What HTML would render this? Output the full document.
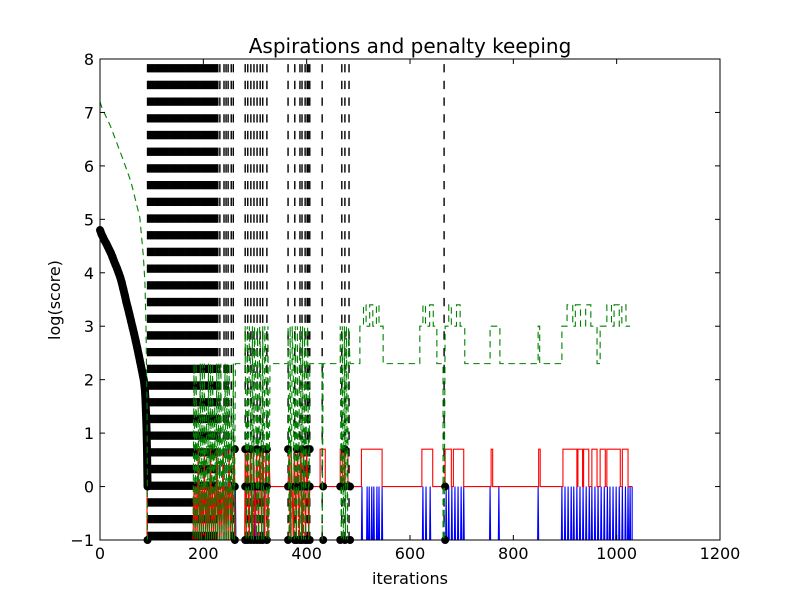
<!DOCTYPE html>
<html><head><meta charset="utf-8"><style>
html,body{margin:0;padding:0;background:#fff;}
svg text{font-family:"DejaVu Sans","Liberation Sans",sans-serif;fill:#000;}
</style></head><body>
<svg id="chart" width="800" height="600" xmlns="http://www.w3.org/2000/svg">
<rect x="0" y="0" width="800" height="600" fill="#fff"/>
<g id="plot"></g>
<rect x="100" y="59" width="620" height="481" fill="none" stroke="#000" stroke-width="1"/>
<g id="ticks"></g>
<text x="410" y="53" font-size="20" text-anchor="middle">Aspirations and penalty keeping</text>
<text x="410" y="584" font-size="16" text-anchor="middle">iterations</text>
<text x="60" y="300" font-size="16" text-anchor="middle" transform="rotate(-90 60 300)">log(score)</text>
</svg>
<script>
const xTicks=[0,200,400,600,800,1000,1200];
const yTicks=[-1,0,1,2,3,4,5,6,7,8];
const vlineIters=[92,94,96,98,100,102,104,106,108,110,112,114,116,118,120,122,124,126,128,130,132,134,136,138,140,142,144,146,148,150,152,154,156,158,160,162,164,166,168,170,172,174,176,178,180,182,184,186,188,190,192,194,196,198,200,202,204,206,208,210,212,214,216,218,220,222,224,226,228,232,240,244,248,254,258,281,286,292,298,304,310,315,323,364,377,387,391,397,401,403,406,430,468,474,482,666];
const curveIters=[0,3,6,9,12,15,18,21,24,27,30,33,36,39,42,45,48,51,54,57,60,63,66,69,72,75,78,81,83,85,87,88,89,90,91,92];
const curveVals=[4.8,4.72,4.66,4.6,4.55,4.49,4.43,4.37,4.3,4.22,4.15,4.08,4.0,3.92,3.82,3.7,3.58,3.45,3.34,3.22,3.1,2.98,2.86,2.73,2.6,2.46,2.32,2.18,2.08,1.98,1.8,1.62,1.38,1.1,0.69,0];
const zeroDots=[261,281,286,292,298,304,310,315,323,364,377,381,387,391,397,401,406,432,465,474,484,668];
const highDots=[261,281,292,304,315,323,364,381,391,401,406,474];
const lowDots=[92,261,281,286,292,298,304,310,315,323,364,377,381,387,391,397,401,406,432,465,474,484,668];
const blueSpikes=[262,300,318,507,517,521,526,530,536,540,546,625,631,639,670,675,681,687,693,699,704,755,772,848,894,900,906,912,917,923,929,935,941,947,952,958,964,970,976,982,987,993,999,1005,1011,1017,1022,1026];
const redDense=[[91,0.7],[91,-1],[180,-1],[182,0],[184,-1],[186,0],[188,-1],[190,0.7],[192,-1],[194,0],[196,-1],[198,0],[200,-1],[202,0.7],[204,-1],[206,0],[208,-1],[210,0],[212,-1],[214,0.7],[216,-1],[218,0],[220,-1],[222,0],[224,-1],[226,0.7],[228,-1],[230,0],[232,-1],[234,0],[236,-1],[238,0.7],[240,-1],[242,0],[244,-1],[246,0],[248,-1],[250,0.7],[252,-1],[254,0],[256,-1],[258,0],[260,0.7],[262,-1],[280,-1],[281,0.7],[283,-1],[285,0.7],[287,0],[289,-1],[291,0.7],[293,0],[295,-1],[297,0.7],[299,0],[301,-1],[303,0.7],[305,0],[307,-1],[309,0.7],[311,0],[313,-1],[315,0.7],[317,0],[319,-1],[321,0.7],[323,0],[325,-1],[327,0.7],[329,0],[364,0],[366,0.7],[368,-1],[370,0.7],[372,0],[374,-1],[376,0.7],[378,0],[380,-1],[382,0.7],[384,0],[386,-1],[388,0.7],[390,0],[392,-1],[394,0.7],[396,0],[398,-1],[400,0.7],[402,0],[404,-1],[406,0]];
const redPulses=[[426,436],[465,469],[473,480],[506,546],[623,644],[668,680],[684,704],[757,760],[849,852],[896,923],[925,934],[936,946],[952,962],[968,978],[981,1007],[1011,1022]];
const redEnd=1030;
const greenDense=[[0,7.2],[4,7.08],[20,6.75],[45,6.11],[60,5.7],[77,5.04],[84,4.3],[87,3.8],[89,3.0],[91,1.5],[92,-1],[180,-1],[182,2.3],[184,-1],[186,2.3],[188,-1],[190,1.5],[192,-1],[194,2.3],[196,-1],[198,2.3],[200,-1],[202,2.3],[204,-1],[206,1.5],[208,-1],[210,2.3],[212,-1],[214,2.3],[216,-1],[218,2.3],[220,-1],[222,1.5],[224,-1],[226,2.3],[228,-1],[230,2.3],[232,-1],[234,2.3],[236,-1],[238,1.5],[240,-1],[242,2.3],[244,-1],[246,2.3],[248,-1],[250,2.3],[252,-1],[254,1.5],[256,-1],[258,2.3],[260,-1],[262,2.3],[281,2.3],[281,3.0],[283,-1],[285,3.0],[287,-1],[289,3.0],[291,2.3],[293,-1],[295,3.0],[297,-1],[299,3.0],[301,2.3],[303,-1],[305,3.0],[307,-1],[309,3.0],[311,2.3],[313,-1],[315,3.0],[317,-1],[319,3.0],[321,2.3],[323,-1],[325,3.0],[327,-1],[329,2.3],[364,2.3],[364,3.0],[366,-1],[368,3.0],[370,-1],[372,3.0],[374,2.3],[376,-1],[378,3.0],[380,-1],[382,3.0],[384,-1],[386,2.3],[388,3.0],[390,-1],[392,3.0],[394,-1],[396,3.0],[398,-1],[400,2.3],[402,3.0],[404,-1],[406,2.3],[430,2.3],[430,-1],[432,2.3],[465,2.3],[465,3.0],[467,-1],[469,3.0],[471,-1],[473,3.0],[475,-1],[477,3.0],[479,-1],[481,3.0],[484,2.3]];
const greenSteps=[[484,503,2.3],[503,510,3.0],[510,515,3.4],[515,522,3.0],[522,528,3.4],[528,535,3.0],[535,540,3.4],[540,548,3.0],[548,619,2.3],[619,625,3.0],[625,630,3.4],[630,638,3.0],[638,645,3.4],[645,652,3.0],[652,664,2.3],[664,666,-1],[668,675,3.0],[675,680,3.4],[680,690,3.0],[690,697,3.4],[697,706,3.0],[706,755,2.3],[755,774,3.0],[774,848,2.3],[848,851,3.0],[851,894,2.3],[894,904,3.0],[904,915,3.4],[915,920,3.0],[920,930,3.4],[930,940,3.0],[940,950,3.4],[950,962,3.0],[962,968,2.3],[968,981,3.0],[981,990,3.4],[990,995,3.0],[995,1005,3.4],[1005,1010,3.0],[1010,1018,3.4],[1018,1026,3.0]];

const NS='http://www.w3.org/2000/svg';
const plot=document.getElementById('plot');
const tk=document.getElementById('ticks');
function xs(v){return 100+v*620/1200;}
function ys(v){return 540-(v+1)*481/9;}
function mk(tag,attrs,parent){const e=document.createElementNS(NS,tag);for(const k in attrs)e.setAttribute(k,attrs[k]);parent.appendChild(e);return e;}

vlineIters.forEach(function(v){
  const l=mk('line',{x1:xs(v),x2:xs(v),y1:ys(-1),y2:ys(8),stroke:'#000','stroke-width':1.4,'stroke-dasharray':'8.3 8.4'},plot);
  
  
});
(function(){
  let d='M'+xs(0)+','+ys(-1);
  blueSpikes.forEach(function(v){d+=' L'+xs(v-1)+','+ys(-1)+' L'+xs(v)+','+ys(0)+' L'+xs(v+1)+','+ys(-1);});
  d+=' L'+xs(1030)+','+ys(-1)+' L'+xs(1030)+','+ys(0);
  const p=mk('path',{d:d,fill:'none',stroke:'#0000ff','stroke-width':1.1},plot);
  
  
})();
(function(){
  let d='';
  redDense.forEach(function(pt,i){d+=(i?' L':'M')+xs(pt[0])+','+ys(pt[1]);});
  redPulses.forEach(function(pr){d+=' L'+xs(pr[0])+','+ys(0)+' L'+xs(pr[0])+','+ys(0.7)+' L'+xs(pr[1])+','+ys(0.7)+' L'+xs(pr[1])+','+ys(0);});
  d+=' L'+xs(redEnd)+','+ys(0);
  const p=mk('path',{d:d,fill:'none',stroke:'#ff0000','stroke-width':1.1},plot);
  
  
})();
function dot(v,val){
  const c=mk('circle',{cx:xs(v),cy:ys(val),r:4,fill:'#000'},plot);
  
  
}
curveIters.forEach(function(v,i){dot(v,curveVals[i]);});
(function(){
  let d='';
  curveIters.forEach(function(v,i){d+=(i?' L':'M')+xs(v)+','+ys(curveVals[i]);});
  const p=mk('path',{d:d,fill:'none',stroke:'#000','stroke-width':8,'stroke-linejoin':'round'},plot);
  
  
})();
zeroDots.forEach(function(v){dot(v,0);});
highDots.forEach(function(v){dot(v,0.7);});
lowDots.forEach(function(v){dot(v,-1);});
(function(){
  let d='';
  greenDense.forEach(function(pt,i){d+=(i?' L':'M')+xs(pt[0])+','+ys(pt[1]);});
  greenSteps.forEach(function(s){d+=' L'+xs(s[0])+','+ys(s[2])+' L'+xs(s[1])+','+ys(s[2]);});
  const p=mk('path',{d:d,fill:'none',stroke:'#008000','stroke-width':1.1,'stroke-dasharray':'6.5 4.5'},plot);
  
  
})();
xTicks.forEach(function(v){
  const x=xs(v);
  const a=mk('line',{x1:x,x2:x,y1:540,y2:535,stroke:'#000'},tk);
  
  
  const b=mk('line',{x1:x,x2:x,y1:59,y2:64,stroke:'#000'},tk);
  
  
  const t=mk('text',{x:x,y:559,'font-size':16,'text-anchor':'middle'},tk);
  t.textContent=String(v);
  
  
});
yTicks.forEach(function(v){
  const y=ys(v);
  const a=mk('line',{x1:100,x2:105,y1:y,y2:y,stroke:'#000'},tk);
  
  
  const b=mk('line',{x1:720,x2:715,y1:y,y2:y,stroke:'#000'},tk);
  
  
  const t=mk('text',{x:94,y:y+6,'font-size':16,'text-anchor':'end'},tk);
  t.textContent=v<0?'\u2212'+Math.abs(v):String(v);
  
  
});
</script>
</body></html>
